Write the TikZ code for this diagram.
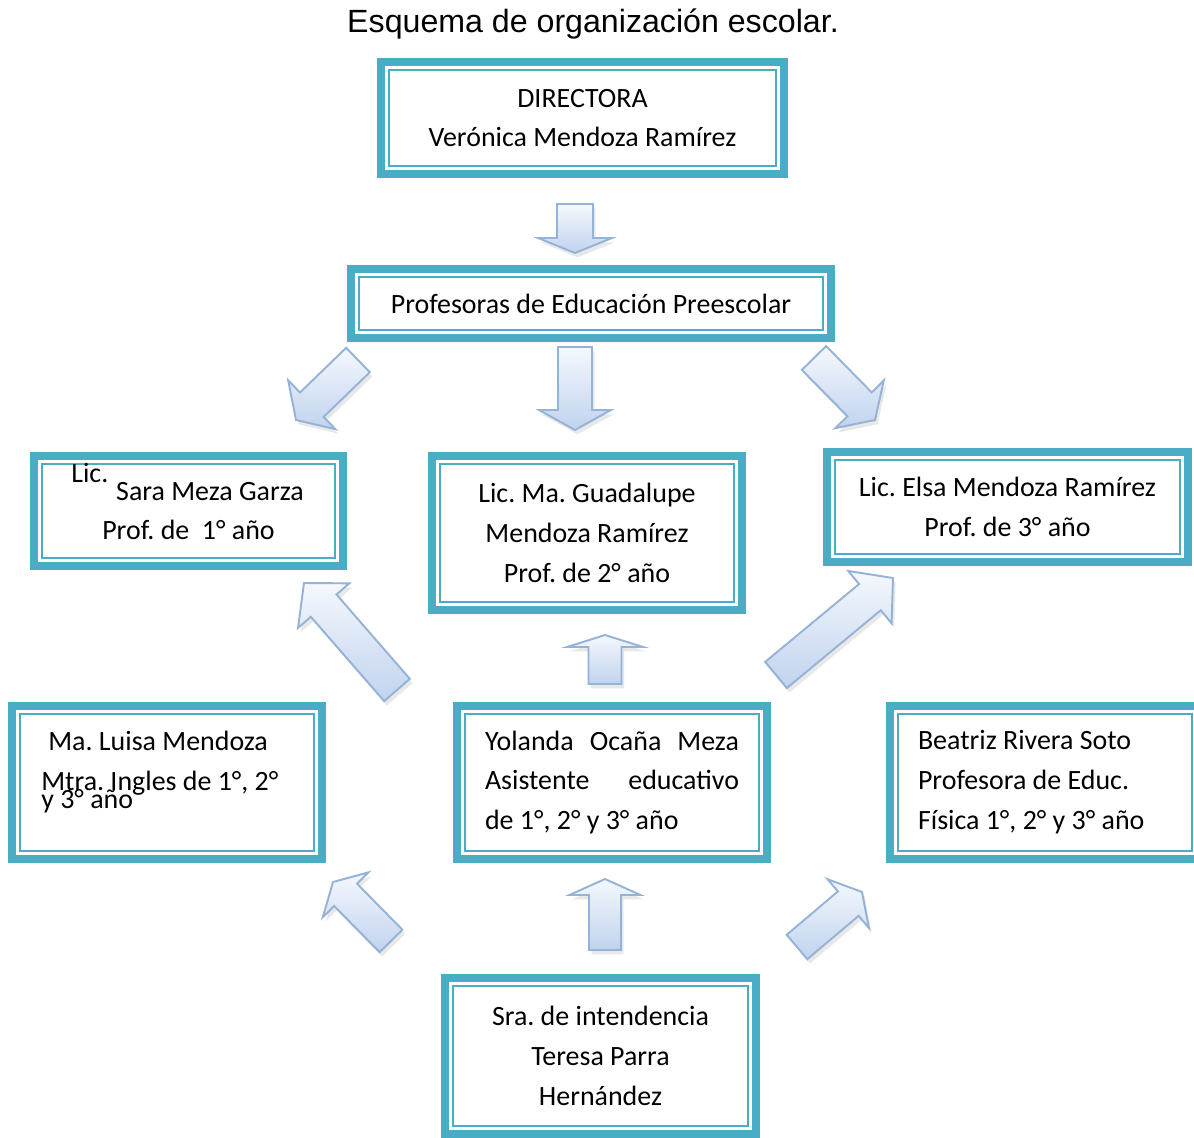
\documentclass[tikz,border=0pt]{standalone}
\usepackage{fontspec}
\setmainfont{Carlito}
\newfontfamily\titlefont{Liberation Sans}
\usetikzlibrary{calc,shadows}
\frenchspacing

\definecolor{boxteal}{HTML}{4BACC6}
\definecolor{arrowline}{HTML}{95B3D7}
\definecolor{arrowtop}{HTML}{F5F8FD}
\definecolor{arrowbot}{HTML}{C0D3EE}

% block arrow: tail, tip, shaft half width, head half width, head length
\newcommand{\bluearrow}[5]{%
  \coordinate (t) at #1;
  \coordinate (p) at #2;
  \coordinate (n) at ($(p)!#5!(t)$);
  \draw[blockarrow] ($(t)!#3!90:(p)$) -- ($(n)!#3!90:(p)$) -- ($(n)!#4!90:(p)$)
    -- (p) -- ($(n)!#4!-90:(p)$) -- ($(n)!#3!-90:(p)$) -- ($(t)!#3!-90:(p)$) -- cycle;
}

\begin{document}
\begin{tikzpicture}[x=0.02cm,y=0.02cm,
  orgbox/.style={draw=boxteal,line width=4.4pt,fill=white,inner sep=0pt,
    align=center,font=\fontsize{15.9}{22.7}\selectfont,
    path picture={\draw[boxteal,line width=1.1pt]
      ([shift={(4.4pt,4.4pt)}]path picture bounding box.south west) rectangle
      ([shift={(-4.4pt,-4.4pt)}]path picture bounding box.north east);}},
  boxtext/.style={inner sep=0pt,align=flush left,font=\fontsize{15.9}{22.7}\selectfont},
  blockarrow/.style={draw=arrowline,line width=1.1pt,line join=miter,
    top color=arrowtop,bottom color=arrowbot,
    drop shadow={opacity=0.18,shadow xshift=1.5pt,shadow yshift=-2.5pt}}]

  \useasboundingbox (0,0) rectangle (1194,-1138);

  \draw (593,-33) node[anchor=base,inner sep=0pt,font=\titlefont\fontsize{18.3}{20}\selectfont] (title)
    {Esquema de organización escolar.};

  \draw (582.5,-118) node[orgbox,minimum width=8.06cm,minimum height=2.24cm] (dir)
    {DIRECTORA\\Verónica Mendoza Ramírez};
  \draw (591,-303.5) node[orgbox,minimum width=9.6cm,minimum height=1.38cm] (prof)
    {Profesoras de Educación Preescolar};

  \draw (188.5,-511) node[orgbox,minimum width=6.18cm,minimum height=2.2cm] (sara)
    {\hspace*{0.86cm}Sara Meza Garza\\Prof. de\ \ 1° año};
  \draw (71,-482) node[boxtext,anchor=base west] (lic) {Lic.};
  \draw (587,-533) node[orgbox,minimum width=6.2cm,minimum height=3.08cm] (guad)
    {Lic. Ma. Guadalupe\\Mendoza Ramírez\\Prof. de 2° año};
  \draw (1007.5,-507) node[orgbox,minimum width=7.22cm,minimum height=2.2cm] (elsa)
    {Lic. Elsa Mendoza Ramírez\\Prof. de 3° año};

  \draw (167,-782.5) node[orgbox,minimum width=6.2cm,minimum height=3.06cm] (luisa) {};
  \draw (41,-808) node[boxtext,anchor=base west] (luisatxt)
    {\hspace*{0.14cm}Ma. Luisa Mendoza\\Mtra. Ingles de 1°, 2°\\[-12.5pt]y 3° año};
  \draw (612,-782.5) node[orgbox,minimum width=6.2cm,minimum height=3.06cm,text width=5.08cm,align=flush left] (yol)
    {\makebox[5.08cm][s]{Yolanda\hfill Ocaña\hfill Meza}\\\makebox[5.08cm][s]{Asistente\hfill educativo}\\de 1°, 2° y 3° año};
  \draw (1045,-782.5) node[orgbox,minimum width=6.2cm,minimum height=3.06cm,text width=5.08cm,align=flush left] (beat)
    {Beatriz Rivera Soto\\Profesora de Educ.\\Física 1°, 2° y 3° año};

  \draw (600.5,-1056) node[orgbox,minimum width=6.22cm,minimum height=3.12cm] (sra)
    {Sra. de intendencia\\Teresa Parra\\Hernández};

  \bluearrow{(575,-204)}{(575,-253)}{0.36cm}{0.74cm}{0.3cm}
  \bluearrow{(358,-360)}{(296,-420)}{0.34cm}{0.68cm}{0.44cm}
  \bluearrow{(575,-347)}{(575,-430)}{0.34cm}{0.72cm}{0.4cm}
  \bluearrow{(814,-358)}{(875,-420)}{0.34cm}{0.68cm}{0.44cm}

  \bluearrow{(397,-690)}{(304,-583)}{0.34cm}{0.68cm}{0.6cm}
  \bluearrow{(605,-684)}{(605,-635)}{0.33cm}{0.76cm}{0.24cm}
  \bluearrow{(776,-675)}{(893,-578)}{0.34cm}{0.68cm}{0.6cm}

  \bluearrow{(391,-941)}{(333,-882)}{0.32cm}{0.64cm}{0.36cm}
  \bluearrow{(605,-950)}{(605,-879)}{0.32cm}{0.71cm}{0.32cm}
  \bluearrow{(797,-947)}{(862,-892)}{0.32cm}{0.64cm}{0.36cm}

\end{tikzpicture}
\end{document}
